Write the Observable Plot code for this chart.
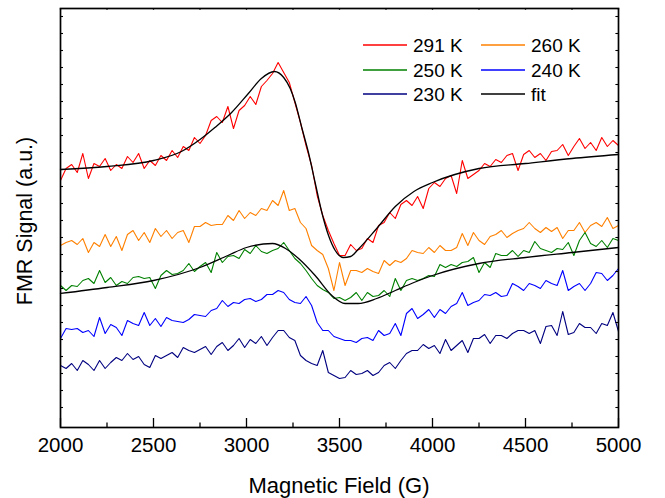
<!DOCTYPE html>
<html><head><meta charset="utf-8">
<script src="https://cdn.jsdelivr.net/npm/d3@7"></script>
<script src="https://cdn.jsdelivr.net/npm/@observablehq/plot@0.6"></script>
<style>body{margin:0;background:#fff;} svg{display:block;}</style>
</head><body><div id="chart"></div>
<script>
// Magnetic field sampling grid (G)
const field = d3.range(2000, 5001, 30);

// FMR signal (a.u.)
const s291 = [247,259,263,255,274,249,264,261,269,257,263,259,271,265,274,259,267,262,272,267,277,270,281,277,290,284,
  292,307,311,305,321,299,317,322,331,323,341,347,354,365,355,345,325,305,282,262,232,212,197,184,172,
  172,183,177,179,189,185,202,205,215,209,223,227,222,231,219,239,245,241,249,252,234,267,249,253,257,
  264,261,268,265,272,274,257,273,277,270,274,267,276,277,283,272,281,289,279,285,277,290,281,287,282];
const s260 = [182,185,187,183,189,175,185,181,193,181,191,177,193,197,187,195,185,199,191,197,189,195,197,185,201,201,
  205,202,203,203,212,207,217,209,215,212,219,217,227,222,237,217,219,205,199,182,177,173,159,137,165,
  142,157,157,155,159,156,154,167,162,167,165,169,177,175,174,180,175,182,177,177,180,194,182,195,187,
  183,191,193,197,190,194,197,199,205,199,195,200,196,200,189,197,197,205,195,202,205,201,210,199,202];
const s250 = [142,137,142,141,147,149,144,157,145,150,142,146,144,150,151,149,150,139,152,157,153,154,157,164,156,161,
  165,155,175,165,171,172,169,178,174,182,176,174,177,179,185,177,169,164,157,149,142,138,135,129,130,
  127,130,135,127,135,131,132,137,131,149,137,147,149,147,149,152,151,163,160,163,161,165,166,170,155,
  165,160,174,172,172,177,171,177,175,186,179,177,175,179,178,185,172,187,195,184,181,187,180,189,187];
const s240 = [89,99,98,99,95,97,91,110,94,103,100,92,107,104,102,115,102,109,101,110,107,106,105,108,113,112,
  111,117,119,127,121,125,124,128,129,126,128,133,133,137,135,128,125,124,131,122,105,97,97,91,89,
  87,87,85,89,90,87,97,92,94,104,92,114,119,109,113,118,110,118,114,121,124,135,122,125,127,
  133,132,135,131,132,144,141,137,144,142,139,147,144,142,157,137,141,144,137,144,155,154,147,152,159];
const s230 = [62,59,64,57,67,63,57,67,59,65,70,67,74,68,71,63,60,72,69,72,75,70,80,77,75,78,
  81,73,81,85,77,82,89,80,88,84,91,82,90,97,97,90,87,72,67,64,62,77,55,52,49,
  50,57,53,54,57,52,55,62,65,59,67,74,77,77,83,79,82,74,88,77,82,87,75,89,89,
  93,84,92,92,89,94,97,97,94,97,84,101,102,92,116,93,95,104,100,100,94,104,102,115,96];

// Fit curves: [field (G), signal]
const fit291 = [[2000,258],[2250,261],[2500,267],[2650,276],[2750,288],[2830,300],[2920,315],[3010,334],[3080,349],
  [3150,356],[3200,350],[3235,339],[3262,325],[3297,300],[3333,275],[3369,245],[3405,215],[3441,192],[3477,177],
  [3520,170],[3560,171],[3600,178],[3700,199],[3800,221],[3900,236],[4000,245],[4250,259],[4500,264],[4750,269],[5000,273]];
const fit250 = [[2000,134],[2250,140],[2500,147],[2750,160],[2900,172],[3000,180],[3140,184],[3210,179],[3280,169],
  [3369,152],[3459,132],[3530,124],[3600,124],[3700,129],[3800,137],[3900,145],[4000,152],[4250,164],[4500,170],
  [4750,175],[5000,180]];

const seriesNames = ["291 K","260 K","250 K","240 K","230 K"];
const seriesColors = ["#ff0000","#ff8000","#008000","#0000ff","#000080"];
const seriesValues = [s291,s260,s250,s240,s230];

const majorX = [2000,2500,3000,3500,4000,4500,5000];
const minorX = [2250,2750,3250,3750,4250,4750];
const yTicks = d3.range(20, 419, 17);

const FONT = "Liberation Sans, Arial, Helvetica, sans-serif";

const marks = [];
seriesValues.forEach((vals, k) => {
  marks.push(Plot.line(vals, {x: (d, i) => field[i], y: d => d, stroke: seriesColors[k], strokeWidth: 1.1}));
});
marks.push(Plot.line(fit291, {x: d => d[0], y: d => d[1], curve: "monotone-x", stroke: "black", strokeWidth: 1.3}));
marks.push(Plot.line(fit250, {x: d => d[0], y: d => d[1], curve: "monotone-x", stroke: "black", strokeWidth: 1.3}));
// inward ticks
marks.push(Plot.ruleX(majorX, {x: d => d, y1: 0, y2: 9, stroke: "black", strokeWidth: 1.3}));
marks.push(Plot.ruleX(minorX, {x: d => d, y1: 0, y2: 4.5, stroke: "black", strokeWidth: 1.3}));
marks.push(Plot.ruleX(majorX.concat(minorX), {x: d => d, y1: 419, y2: 417.3, stroke: "black", strokeWidth: 1.3}));
marks.push(Plot.ruleY(yTicks, {y: d => d, x1: 2000, x2: 2016, stroke: "black", strokeWidth: 1.1}));
marks.push(Plot.ruleY(yTicks, {y: d => d, x1: 5000, x2: 4986, stroke: "black", strokeWidth: 1.1}));
marks.push(Plot.frame({stroke: "black", strokeWidth: 1.7}));
marks.push(Plot.axisX({ticks: majorX, tickSize: 0, tickPadding: 10, fontSize: 20.5, tickFormat: d => String(d), label: null, fill: "black"}));

const plot = Plot.plot({
  width: 665, height: 498,
  marginLeft: 60, marginRight: 47, marginTop: 8, marginBottom: 71,
  style: {fontFamily: FONT, background: "white", color: "black", overflow: "visible"},
  x: {domain: [2000, 5000]},
  y: {domain: [0, 419], axis: null},
  marks
});

const svg = d3.select(plot);
svg.append("text").attr("x", 339).attr("y", 493).attr("text-anchor", "middle")
  .attr("font-family", FONT).attr("font-size", 22).attr("fill", "black").text("Magnetic Field (G)");
svg.append("text").attr("transform", "translate(31.5,221) rotate(-90)").attr("text-anchor", "middle")
  .attr("font-family", FONT).attr("font-size", 21.5).attr("fill", "black").text("FMR Signal (a.u.)");

// legend
const legendItems = [
  {label: "291 K", color: seriesColors[0]}, {label: "260 K", color: seriesColors[1]},
  {label: "250 K", color: seriesColors[2]}, {label: "240 K", color: seriesColors[3]},
  {label: "230 K", color: seriesColors[4]}, {label: "fit", color: "#000000"}
];
const colX = [363, 481], rowY = [45, 70, 94];
const lg = svg.append("g").attr("text-anchor", "start");
legendItems.forEach((it, i) => {
  const cx = colX[i % 2], cy = rowY[Math.floor(i / 2)];
  lg.append("line").attr("x1", cx).attr("x2", cx + 44).attr("y1", cy).attr("y2", cy)
    .attr("stroke", it.color).attr("stroke-width", 1.3);
  lg.append("text").attr("x", cx + 50).attr("y", cy + 7).attr("text-anchor", "start").attr("font-family", FONT)
    .attr("font-size", 19).attr("fill", "black").text(it.label);
});

document.getElementById("chart").appendChild(plot);
</script>
</body></html>
